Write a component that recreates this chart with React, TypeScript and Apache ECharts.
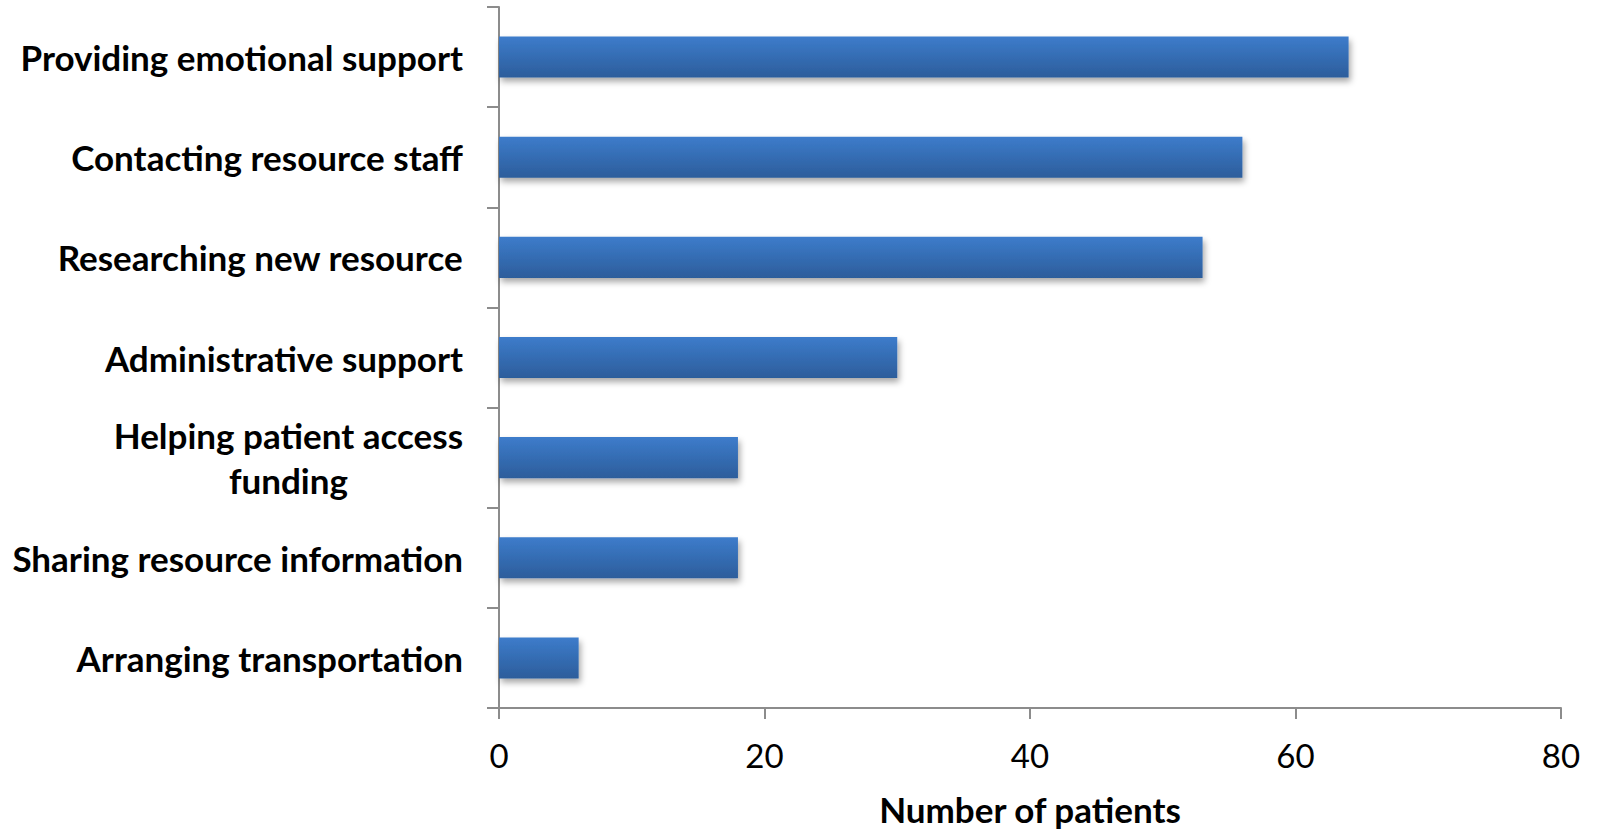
import React, { useEffect, useRef } from "react";
import * as echarts from "echarts";

const categories = [
  "Providing emotional support",
  "Contacting resource staff",
  "Researching new resource",
  "Administrative support",
  "Helping patient access\nfunding",
  "Sharing resource information",
  "Arranging transportation",
];
const values = [64, 56, 53, 30, 18, 18, 6];
const xTicks = [0, 20, 40, 60, 80];
const xAxisName = "Number of patients";

export default function App() {
  const ref = useRef<HTMLDivElement>(null);
  useEffect(() => {
    if (!ref.current) return;
    const chart = echarts.init(ref.current, undefined, { renderer: "svg" });
    chart.setOption({
      animation: false,
      backgroundColor: "#ffffff",
      grid: { left: 499, right: 36, top: 7, bottom: 120, containLabel: false },
      xAxis: {
        type: "value",
        min: xTicks[0],
        max: xTicks[xTicks.length - 1],
        interval: 20,
        splitLine: { show: false },
        axisLine: { show: true, lineStyle: { color: "#8c8c8c", width: 2 } },
        axisTick: { show: true, length: 11, lineStyle: { color: "#8c8c8c", width: 2 } },
        axisLabel: {
          color: "#000",
          fontFamily: "Lato",
          fontSize: 33,
          margin: 30,
        },
        name: xAxisName,
        nameLocation: "middle",
        nameGap: 83,
        nameTextStyle: {
          color: "#000",
          fontFamily: "Lato",
          fontWeight: "bold",
          fontSize: 35,
        },
      },
      yAxis: {
        type: "category",
        data: categories,
        inverse: true,
        axisLine: { show: true, lineStyle: { color: "#8c8c8c", width: 2 } },
        axisTick: { show: true, length: 12, lineStyle: { color: "#8c8c8c", width: 2 } },
        axisLabel: {
          margin: 36,
          align: "right",
          formatter: (v: string) =>
            v
              .split("\n")
              .map((s) => "{c|" + s + "}")
              .join("\n"),
          rich: {
            c: {
              align: "center",
              color: "#000",
              fontFamily: "Lato",
              fontWeight: "bold",
              fontSize: 35,
              lineHeight: 45,
            },
          },
        },
      },
      series: [
        {
          type: "bar",
          data: values,
          barWidth: "41%",
          itemStyle: {
            color: new echarts.graphic.LinearGradient(0, 0, 0, 1, [
              { offset: 0, color: "#3d7ccb" },
              { offset: 1, color: "#2c5d9b" },
            ]),
            shadowColor: "rgba(0,0,0,0.35)",
            shadowBlur: 6,
            shadowOffsetX: 2,
            shadowOffsetY: 4,
          },
        },
      ],
    });
    return () => chart.dispose();
  }, []);
  return (
    <div
      ref={ref}
      style={{ position: "fixed", left: 0, top: 0, width: 1597, height: 831 }}
    />
  );
}
